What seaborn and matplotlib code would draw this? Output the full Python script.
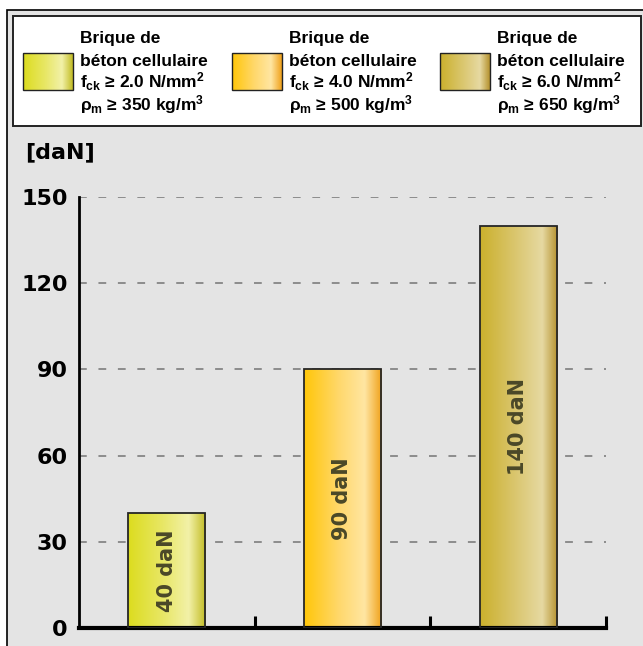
import numpy as np
import pandas as pd
import seaborn as sns
import matplotlib.pyplot as plt
from matplotlib.colors import LinearSegmentedColormap
from matplotlib.patches import Rectangle

# --- Data ---
strength_classes = ['2.0', '4.0', '6.0']
pull_out_force = [40, 90, 140]
bar_labels = ['40 daN', '90 daN', '140 daN']
y_ticks = [0, 30, 60, 90, 120, 150]
unit_label = '[daN]'
legend_lines = [
    ['Brique de', 'béton cellulaire', 'f$_{ck}$ ≥ 2.0 N/mm$^{2}$', 'ρ$_{m}$ ≥ 350 kg/m$^{3}$'],
    ['Brique de', 'béton cellulaire', 'f$_{ck}$ ≥ 4.0 N/mm$^{2}$', 'ρ$_{m}$ ≥ 500 kg/m$^{3}$'],
    ['Brique de', 'béton cellulaire', 'f$_{ck}$ ≥ 6.0 N/mm$^{2}$', 'ρ$_{m}$ ≥ 650 kg/m$^{3}$'],
]

# --- Style ---
gradients = [
    [(0.0, '#dcdc1e'), (0.45, '#e8e766'), (0.78, '#f2f1a8'), (1.0, '#c2bc24')],
    [(0.0, '#ffc608'), (0.45, '#ffd86c'), (0.78, '#ffe6a2'), (1.0, '#f0a11a')],
    [(0.0, '#cbb02c'), (0.45, '#dac66e'), (0.80, '#e6d9a2'), (1.0, '#b5912d')],
]
BG = '#e4e4e4'
LABEL_COLOR = '#4a4828'
LEGEND_FONT = ['Liberation Sans', 'DejaVu Sans']

plt.rcParams['mathtext.default'] = 'regular'


def make_cmap(stops):
    return LinearSegmentedColormap.from_list('g', stops)


def main():
    fig = plt.figure(figsize=(6.43, 6.46), dpi=100, facecolor='white')
    grad = np.linspace(0, 1, 256)[None, :]

    # overlay in pixel coordinates for the frame and the legend
    ov = fig.add_axes([0, 0, 1, 1], zorder=0)
    ov.set_xlim(0, 643)
    ov.set_ylim(646, 0)
    ov.axis('off')
    ov.add_patch(Rectangle((7, 10), 640, 640, facecolor=BG, edgecolor='black', lw=1.2))
    ov.add_patch(Rectangle((13, 16), 628, 110, facecolor='white', edgecolor='#222222', lw=1.4))

    swatch_x = [23, 232, 440]
    baselines = [43, 66, 88, 110]
    for x0, stops, lines in zip(swatch_x, gradients, legend_lines):
        ov.imshow(grad, cmap=make_cmap(stops), extent=(x0, x0 + 50, 90, 53),
                  aspect='auto', zorder=2)
        ov.add_patch(Rectangle((x0, 53), 50, 37, facecolor='none',
                               edgecolor='#222222', lw=1.0, zorder=3))
        for yb, line in zip(baselines, lines):
            ov.text(x0 + 57, yb, line, family=LEGEND_FONT, fontweight='bold',
                    fontsize=12.5, va='baseline', ha='left', color='black')
    ov.text(25, 152, unit_label, fontsize=16, fontweight='bold', va='center',
            ha='left', family='DejaVu Sans')
    ov.set_xlim(0, 643)
    ov.set_ylim(646, 0)

    # main chart
    ax = fig.add_axes([79 / 643, 18 / 646, 527 / 643, 431 / 646], zorder=1)
    ax.set_facecolor('none')
    df = pd.DataFrame({'fck': strength_classes, 'force': pull_out_force})
    sns.barplot(data=df, x='fck', y='force', order=strength_classes, width=0.44,
                color='white', edgecolor='#262626', linewidth=1.3, ax=ax, zorder=3)

    for patch, stops in zip(ax.patches, gradients):
        x0, y0 = patch.get_x(), patch.get_y()
        w, h = patch.get_width(), patch.get_height()
        im = ax.imshow(grad, cmap=make_cmap(stops), extent=(x0, x0 + w, y0, y0 + h),
                       aspect='auto', zorder=2.5)
        im.set_clip_path(patch)
        patch.set_facecolor('none')

    ax.bar_label(ax.containers[0], labels=bar_labels, label_type='center',
                 rotation=90, fontsize=15, fontweight='bold', color=LABEL_COLOR)

    ax.set_xlim(-0.5, 2.5)
    ax.set_ylim(0, 150)
    ax.set_yticks(y_ticks)
    ax.set_yticklabels([str(t) for t in y_ticks], fontsize=16, fontweight='bold')
    ax.tick_params(axis='y', length=0, pad=8)
    ax.set_xticks([0.5, 1.5, 2.5])
    ax.set_xticklabels([])
    ax.tick_params(axis='x', direction='in', length=9, width=2.2, color='black')
    ax.set_xlabel('')
    ax.set_ylabel('')

    ax.yaxis.grid(True, color='#8c8c8c', lw=1.4, linestyle=(0, (4, 6)), zorder=1)
    ax.set_axisbelow(True)
    for side in ['top', 'right']:
        ax.spines[side].set_visible(False)
    ax.spines['left'].set_linewidth(2)
    ax.spines['bottom'].set_linewidth(3)
    ax.spines['left'].set_color('black')
    ax.spines['bottom'].set_color('black')

    fig.savefig('out.png', dpi=100, facecolor='white')


if __name__ == '__main__':
    main()
